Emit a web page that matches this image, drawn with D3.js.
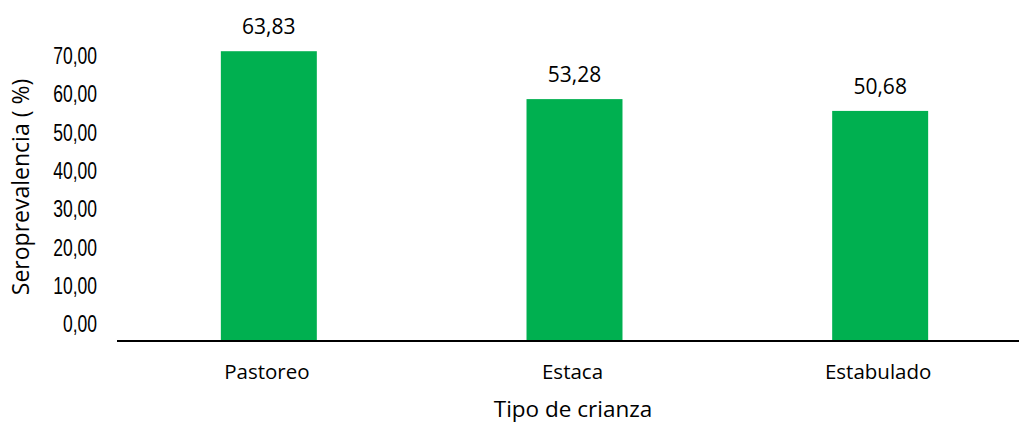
<!DOCTYPE html>
<html><head><meta charset="utf-8">
<script src="https://cdn.jsdelivr.net/npm/d3@7"></script>
<style>body{margin:0;background:#fff}svg{display:block}</style>
</head><body>
<svg id="c" width="1019" height="424"></svg>
<script>
const categories = ["Pastoreo", "Estaca", "Estabulado"];
const values = [63.83, 53.28, 50.68];
const tickValues = [0, 10, 20, 30, 40, 50, 60, 70];
const valueLabels = ["63,83", "53,28", "50,68"];
const yTitle = "Seroprevalencia ( %)";
const xTitle = "Tipo de crianza";

const svg = d3.select("#c");
const baseY = 341;
const x = d3.scaleBand().domain(categories).range([116, 1033]).paddingInner(0.686).paddingOuter(0.343);
const y = d3.scaleLinear().domain([0, 70]).range([baseY, baseY - 70 * 4.54]);
// tick labels in the original sit on their own (offset) spacing
const yLab = d3.scaleLinear().domain([0, 70]).range([324, 56]);

svg.selectAll("rect.bar").data(values).join("rect")
  .attr("class", "bar")
  .attr("x", (d, i) => x(categories[i]))
  .attr("width", x.bandwidth())
  .attr("y", d => y(d))
  .attr("height", d => y(0) - y(d))
  .attr("fill", "#00B050");

svg.selectAll("text.val").data(values).join("text")
  .attr("class", "val")
  .attr("x", (d, i) => x(categories[i]) + x.bandwidth() / 2)
  .attr("y", d => y(d) - 17)
  .attr("text-anchor", "middle")
  .attr("font-family", "Open Sans")
  .attr("font-size", 21)
  .attr("fill", "#000")
  .text((d, i) => valueLabels[i]);

// x axis line
svg.append("line").attr("x1", 117).attr("x2", 1019).attr("y1", baseY).attr("y2", baseY)
  .attr("stroke", "#000").attr("stroke-width", 2);

const xAxis = svg.append("g").attr("transform", `translate(0,${baseY})`)
  .call(d3.axisBottom(x).tickSize(0).tickPadding(23));
xAxis.select(".domain").remove();
xAxis.selectAll("text").attr("font-family", "Open Sans").attr("font-size", 20.5).attr("fill", "#000").attr("dx", -2);

const yAxis = svg.append("g").attr("transform", "translate(97,0)")
  .call(d3.axisLeft(yLab).tickValues(tickValues).tickSize(0).tickPadding(0)
    .tickFormat(d => d3.format(".2f")(d).replace(".", ",")));
yAxis.select(".domain").remove();
yAxis.selectAll("text").attr("font-family", "Liberation Sans").attr("font-size", 24)
  .attr("fill", "#000").attr("transform", "scale(0.73,1)");

svg.append("text").attr("transform", "translate(29,187) rotate(-90)")
  .attr("text-anchor", "middle").attr("font-family", "Open Sans").attr("font-size", 23).attr("fill", "#000")
  .text(yTitle);

svg.append("text").attr("x", 573).attr("y", 417).attr("text-anchor", "middle")
  .attr("font-family", "Open Sans").attr("font-size", 22.5).attr("fill", "#000").text(xTitle);
</script>
</body></html>
